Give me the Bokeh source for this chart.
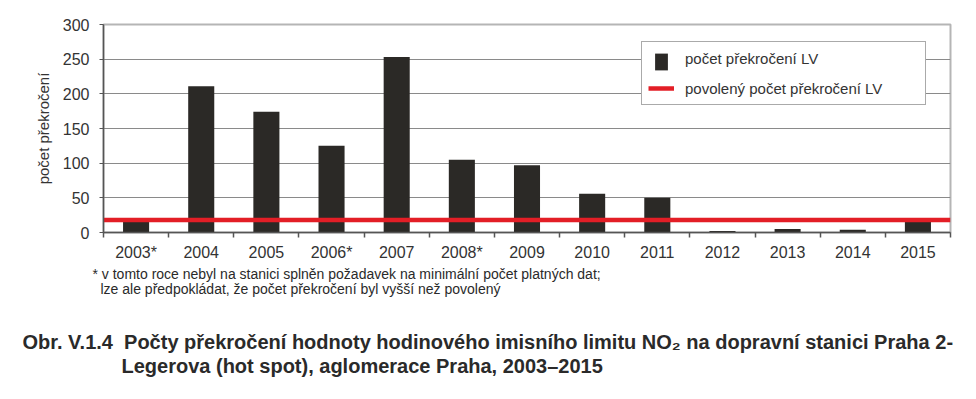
from bokeh.plotting import figure
from bokeh.models import Range1d, FixedTicker, Legend, LegendItem, Title, ColumnDataSource
from bokeh.embed import file_html
from bokeh.resources import INLINE

years = ["2003*", "2004", "2005", "2006*", "2007", "2008*", "2009",
         "2010", "2011", "2012", "2013", "2014", "2015"]
exceedances = [17, 211, 174, 125, 253, 105, 97, 56, 50, 2, 5, 4, 18]
allowed_limit = 18
y_ticks = [0, 50, 100, 150, 200, 250, 300]
grid_ticks = [50, 100, 150, 200, 250]

bar_label = "počet překročení LV"
line_label = "povolený počet překročení LV"
y_title = "počet překročení"
foot1 = "* v tomto roce nebyl na stanici splněn požadavek na minimální počet platných dat;"
foot2 = "lze ale předpokládat, že počet překročení byl vyšší než povolený"
cap1 = "Obr. V.1.4\u00a0 Počty překročení hodnoty hodinového imisního limitu NO\u2082 na dopravní stanici Praha 2-"
cap2 = "Legerova (hot spot), aglomerace Praha, 2003\u20132015"

n = len(years)
centers = [i + 0.5 for i in range(n)]
bounds = list(range(n + 1))

FONT = "Liberation Sans"
BAR = "#2b2926"

p = figure(width=968, height=395, output_backend="svg", toolbar_location=None,
           x_range=Range1d(0, n), y_range=Range1d(0, 300),
           min_border_left=103, min_border_right=18, min_border_top=24,
           min_border_bottom=163)
p.background_fill_color = "white"
p.border_fill_color = "white"
p.outline_line_color = "#b5b5b5"
p.outline_line_width = 2

bars = p.vbar(x=centers, top=exceedances, width=0.4, bottom=0,
              fill_color=BAR, line_color=None)
limit_line = p.line(x=[0, n], y=[allowed_limit, allowed_limit],
                    line_color="#e31e26", line_width=4.5)
# empty renderer: keeps the legend row for the bars without drawing its wide icon
ghost = p.vbar(x="x", top="top", width=0.4, source=ColumnDataSource(dict(x=[], top=[])),
               fill_alpha=0, line_alpha=0)

# axes
p.xaxis.ticker = FixedTicker(ticks=centers, minor_ticks=bounds)
p.xaxis.major_label_overrides = {c: y for c, y in zip(centers, years)}
p.xaxis.major_tick_out = 0
p.xaxis.major_tick_in = 0
p.xaxis.minor_tick_out = 5
p.xaxis.minor_tick_in = 0
p.xaxis.minor_tick_line_color = "#555555"
p.xaxis.minor_tick_line_width = 1.5
p.xaxis.axis_line_color = "#555555"
p.xaxis.axis_line_width = 1.5
p.xaxis.major_label_text_font = FONT
p.xaxis.major_label_text_font_size = "16px"
p.xaxis.major_label_text_color = "#333333"
p.xaxis.major_label_standoff = 6

p.yaxis.ticker = FixedTicker(ticks=y_ticks)
p.yaxis.minor_tick_line_color = None
p.yaxis.major_tick_out = 4
p.yaxis.major_tick_in = 0
p.yaxis.major_tick_line_color = "#555555"
p.yaxis.axis_line_color = "#555555"
p.yaxis.axis_line_width = 1.5
p.yaxis.major_label_text_font = FONT
p.yaxis.major_label_text_font_size = "16px"
p.yaxis.major_label_text_color = "#333333"
p.yaxis.major_label_standoff = 10
p.yaxis.axis_label = y_title
p.yaxis.axis_label_text_font = FONT
p.yaxis.axis_label_text_font_size = "15px"
p.yaxis.axis_label_text_font_style = "normal"
p.yaxis.axis_label_text_color = "#333333"
p.yaxis.axis_label_standoff = 8

p.xgrid.grid_line_color = None
p.ygrid.ticker = FixedTicker(ticks=grid_ticks)
p.ygrid.grid_line_color = "#8a8a8a"
p.ygrid.grid_line_width = 1

legend = Legend(items=[LegendItem(label=bar_label, renderers=[ghost]),
                       LegendItem(label=line_label, renderers=[limit_line])],
                location=(538, 127), orientation="vertical",
                border_line_color="#555555", border_line_width=1,
                background_fill_color="white", background_fill_alpha=1,
                padding=6, margin=0, spacing=10, glyph_width=26, glyph_height=20,
                label_height=20, label_standoff=11, label_width=234,
                label_text_font=FONT, label_text_font_size="15px",
                label_text_color="#333333")
p.add_layout(legend)

# narrow icon for the bar series, drawn over the legend box
bar_icon = Legend(items=[LegendItem(label="\u00a0", renderers=[bars])],
                  location=(549.5, 160.5), orientation="vertical",
                  border_line_color=None, background_fill_alpha=0,
                  padding=0, margin=0, spacing=0, glyph_width=16, glyph_height=21,
                  label_height=21, label_standoff=0, label_width=0,
                  label_text_font_size="1px")
p.add_layout(bar_icon)

for txt, off, size, style, standoff in [(foot1, -11, "14px", "normal", 1),
                                        (foot2, -3, "14px", "normal", -7),
                                        ("\u00a0", 0, "10px", "normal", 22),
                                        (cap1, -81, "20px", "bold", 0),
                                        (cap2, 18, "20px", "bold", 0)]:
    p.add_layout(Title(text=txt, align="left", offset=off, standoff=standoff,
                       text_font=FONT, text_font_size=size, text_font_style=style,
                       text_color="#2a2a2a"), "below")

open("out.html", "w").write(file_html(p, INLINE))
